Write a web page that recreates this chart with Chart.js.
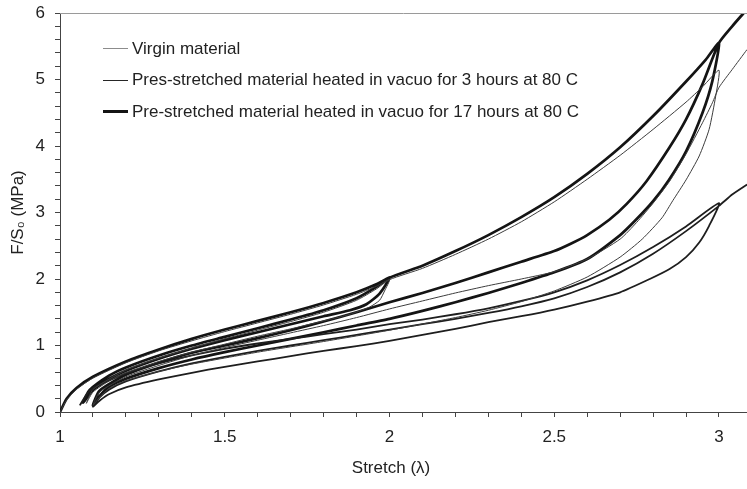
<!DOCTYPE html>
<html>
<head>
<meta charset="utf-8">
<script src="https://cdn.jsdelivr.net/npm/chart.js@4.4.1/dist/chart.umd.min.js"></script>
<style>
  html, body { margin: 0; padding: 0; background: #fff; }
  #wrap { position: relative; width: 747px; height: 489px; font-family: "Liberation Sans", Arial, sans-serif; color: #222; }
  #legend { position: absolute; left: 103px; top: 33px; font-size: 17px; }
  #legend .row { height: 31.5px; display: flex; align-items: center; white-space: nowrap; }
  #legend .swatch { width: 25px; margin-right: 4px; }
  #xtitle { position: absolute; left: 291px; width: 200px; top: 458px; text-align: center; font-size: 17px; }
</style>
</head>
<body>
<div id="wrap">
  <canvas id="chart" width="747" height="489"></canvas>
  <div id="legend"></div>
  <div id="xtitle">Stretch (&lambda;)</div>
</div>
<script>
// axis tick labels
const xTickValues = [1, 1.5, 2, 2.5, 3];
const yTickValues = [0, 1, 2, 3, 4, 5, 6];

const seriesLabels = [
  'Virgin material',
  'Pres-stretched material heated in vacuo for 3 hours at 80 C',
  'Pre-stretched material heated in vacuo for 17 hours at 80 C'
];

// virgin: load to 2, unload, reload, load to 3, unload, reload past 3
const virginStretch = [
  1, 1.02, 1.05, 1.1, 1.2, 1.3, 1.4, 1.5, 1.6, 1.7, 1.8, 1.9, 1.96, 2.0,
  1.985, 1.97, 1.94, 1.88, 1.8, 1.7, 1.6, 1.5, 1.4, 1.3, 1.2, 1.15, 1.1, 1.08,
  1.1, 1.2, 1.3, 1.4, 1.5, 1.6, 1.7, 1.8, 1.9, 1.96, 2.0,
  2.1, 2.2, 2.3, 2.4, 2.5, 2.6, 2.7, 2.8, 2.9, 2.95, 3.0,
  2.99, 2.97, 2.94, 2.9, 2.86, 2.827, 2.767, 2.7, 2.6, 2.5, 2.4, 2.3, 2.2, 2.0, 1.8, 1.6, 1.4, 1.3, 1.2, 1.15, 1.12, 1.1,
  1.12, 1.2, 1.3, 1.4, 1.5, 1.6, 1.7, 1.8, 1.9, 2.0, 2.1, 2.2, 2.3, 2.4, 2.5, 2.6, 2.7, 2.75, 2.8, 2.85, 2.9, 2.95, 2.98, 3.0, 3.04, 3.085
];
const virginStress = [
  0, 0.18, 0.34, 0.51, 0.74, 0.92, 1.07, 1.21, 1.34, 1.47, 1.61, 1.77, 1.89, 1.99,
  1.82, 1.68, 1.58, 1.47, 1.37, 1.25, 1.14, 1.02, 0.9, 0.76, 0.59, 0.47, 0.3, 0.13,
  0.34, 0.63, 0.81, 0.96, 1.1, 1.23, 1.36, 1.5, 1.68, 1.85, 1.99,
  2.16, 2.37, 2.6, 2.86, 3.16, 3.5, 3.86, 4.25, 4.66, 4.89, 5.14,
  4.75, 4.25, 3.85, 3.49, 3.18, 2.92, 2.6, 2.33, 2.03, 1.82, 1.66, 1.53, 1.42, 1.23, 1.06, 0.9, 0.72, 0.61, 0.47, 0.36, 0.22, 0.1,
  0.3, 0.53, 0.7, 0.85, 0.97, 1.08, 1.19, 1.3, 1.42, 1.55, 1.67, 1.79, 1.9, 2.0, 2.11, 2.3, 2.6, 2.85, 3.14, 3.47, 3.88, 4.35, 4.65, 4.88, 5.15, 5.45
];

// 3 hours at 80 C
const heated3hStretch = [
  1.06, 1.08, 1.1, 1.2, 1.3, 1.4, 1.5, 1.6, 1.7, 1.8, 1.9, 2.0, 2.1, 2.2, 2.3, 2.4, 2.5, 2.6, 2.7, 2.8, 2.9, 3.0,
  2.97, 2.94, 2.9, 2.85, 2.79, 2.7, 2.6, 2.5, 2.4, 2.3, 2.2, 2.1, 2.0, 1.9, 1.8, 1.7, 1.6, 1.5, 1.4, 1.3, 1.2, 1.15, 1.12, 1.1,
  1.12, 1.15, 1.2, 1.3, 1.4, 1.5, 1.6, 1.7, 1.8, 1.9, 2.0, 2.1, 2.2, 2.3, 2.4, 2.5, 2.6, 2.7, 2.8, 2.9, 3.0, 3.04, 3.085
];
const heated3hStress = [
  0.1, 0.26, 0.36, 0.58, 0.73, 0.85, 0.95, 1.03, 1.1, 1.17, 1.24, 1.32, 1.39, 1.47, 1.56, 1.67, 1.8, 1.98, 2.21, 2.48, 2.79, 3.14,
  2.8, 2.55, 2.33, 2.15, 2.0, 1.8, 1.66, 1.54, 1.44, 1.35, 1.25, 1.16, 1.07, 0.99, 0.92, 0.84, 0.76, 0.68, 0.59, 0.49, 0.37, 0.27, 0.17, 0.08,
  0.22, 0.34, 0.46, 0.61, 0.73, 0.83, 0.92, 1.0, 1.08, 1.16, 1.24, 1.32, 1.4, 1.49, 1.59, 1.71, 1.88, 2.1, 2.38, 2.72, 3.1, 3.27, 3.42
];

// 17 hours at 80 C
const heated17hStretch = [
  1, 1.02, 1.05, 1.1, 1.2, 1.3, 1.4, 1.5, 1.6, 1.7, 1.8, 1.9, 1.96, 2.0,
  1.97, 1.93, 1.88, 1.8, 1.7, 1.6, 1.5, 1.4, 1.3, 1.2, 1.15, 1.1, 1.07,
  1.09, 1.15, 1.2, 1.3, 1.4, 1.5, 1.6, 1.7, 1.8, 1.9, 1.96, 2.0,
  2.1, 2.2, 2.3, 2.4, 2.5, 2.6, 2.7, 2.8, 2.9, 2.96, 3.0,
  2.98, 2.95, 2.9, 2.848, 2.8, 2.748, 2.7, 2.6, 2.5, 2.4, 2.3, 2.2, 2.1, 2.0, 1.9, 1.8, 1.7, 1.6, 1.5, 1.4, 1.3, 1.2, 1.15, 1.12, 1.1,
  1.12, 1.2, 1.3, 1.4, 1.5, 1.6, 1.7, 1.8, 1.9, 2.0, 2.1, 2.2, 2.3, 2.4, 2.5, 2.55, 2.6, 2.667, 2.72, 2.78, 2.85, 2.9, 2.95, 3.0, 3.04, 3.075
];
const heated17hStress = [
  0, 0.2, 0.36, 0.53, 0.76, 0.94, 1.1, 1.24, 1.37, 1.5, 1.64, 1.8, 1.92, 2.02,
  1.78, 1.62, 1.53, 1.44, 1.32, 1.2, 1.08, 0.95, 0.8, 0.62, 0.5, 0.33, 0.14,
  0.33, 0.55, 0.67, 0.85, 1.0, 1.13, 1.26, 1.39, 1.53, 1.71, 1.88, 2.02,
  2.2, 2.42, 2.66, 2.93, 3.23, 3.58, 3.98, 4.45, 4.97, 5.3, 5.55,
  4.98, 4.5, 3.92, 3.49, 3.17, 2.89, 2.66, 2.3, 2.1, 1.94, 1.79, 1.65, 1.52, 1.4, 1.3, 1.2, 1.1, 1.0, 0.9, 0.79, 0.66, 0.5, 0.38, 0.24, 0.1,
  0.32, 0.56, 0.74, 0.89, 1.0, 1.11, 1.23, 1.36, 1.5, 1.65, 1.79, 1.94, 2.1, 2.26, 2.42, 2.53, 2.66, 2.89, 3.13, 3.47, 3.98, 4.4, 4.93, 5.55, 5.8, 6.0
];

const lineStyles = [
  { color: '#3c3c3c', width: 1, legend: '#8c8c8c', legendWidth: 1.5 },
  { color: '#1e1e1e', width: 1.8, legend: '#262626', legendWidth: 1.6 },
  { color: '#141414', width: 2.7, legend: '#141414', legendWidth: 3 }
];

function toPoints(xs, ys) {
  return xs.map((x, i) => ({ x: x, y: ys[i] }));
}

const seriesData = [
  toPoints(virginStretch, virginStress),
  toPoints(heated3hStretch, heated3hStress),
  toPoints(heated17hStretch, heated17hStress)
];

const FONT = '"Liberation Sans", Arial, sans-serif';
Chart.defaults.font.family = FONT;
Chart.defaults.font.size = 17;
Chart.defaults.color = '#222';

const topBorder = {
  id: 'topBorder',
  afterDraw(chart) {
    const a = chart.chartArea;
    const ctx = chart.ctx;
    ctx.save();
    ctx.strokeStyle = '#9a9a9a';
    ctx.lineWidth = 1;
    ctx.beginPath();
    ctx.moveTo(a.left, Math.round(a.top) + 0.5);
    ctx.lineTo(a.right, Math.round(a.top) + 0.5);
    ctx.stroke();
    ctx.restore();
  }
};

const chart = new Chart(document.getElementById('chart'), {
  type: 'scatter',
  data: {
    datasets: seriesData.map((pts, i) => ({
      label: seriesLabels[i],
      data: pts,
      showLine: true,
      borderColor: lineStyles[i].color,
      borderWidth: lineStyles[i].width,
      pointRadius: 0,
      tension: 0.2,
      fill: false
    }))
  },
  options: {
    responsive: false,
    animation: false,
    layout: { padding: { top: 13, right: 0, left: 0, bottom: 0 } },
    plugins: {
      legend: { display: false },
      tooltip: { enabled: false }
    },
    scales: {
      x: {
        type: 'linear',
        min: 1,
        max: 3.085,
        afterBuildTicks(scale) {
          const t = [];
          for (let k = 0; k <= 20; k++) t.push({ value: Math.round((1 + k * 0.1) * 10) / 10 });
          scale.ticks = t;
        },
        afterFit(scale) {
          scale.height = 77;
          scale.paddingLeft = 0;
          scale.paddingRight = 0;
        },
        ticks: {
          autoSkip: false,
          maxRotation: 0,
          padding: 10,
          color: '#222',
          callback: (v) => xTickValues.indexOf(Math.round(v * 10) / 10) >= 0 ? String(Math.round(v * 10) / 10) : ''
        },
        grid: { drawOnChartArea: false, tickLength: 5, color: '#444', tickColor: '#444' },
        border: { color: '#444', width: 1 }
      },
      y: {
        type: 'linear',
        min: 0,
        max: 6,
        afterBuildTicks(scale) {
          const t = [];
          for (let k = 0; k <= 30; k++) t.push({ value: Math.round(k * 0.2 * 10) / 10 });
          scale.ticks = t;
        },
        afterFit(scale) {
          scale.width = 60;
          scale.paddingTop = 0;
          scale.paddingBottom = 0;
        },
        ticks: {
          autoSkip: false,
          padding: 10,
          color: '#222',
          callback: (v) => yTickValues.indexOf(Math.round(v * 10) / 10) >= 0 ? String(Math.round(v)) : ''
        },
        title: {
          display: true,
          text: 'F/S\u2080 (MPa)',
          color: '#222',
          font: { size: 17 },
          padding: { top: 8, bottom: 0 }
        },
        grid: { drawOnChartArea: false, tickLength: 5, color: '#444', tickColor: '#444' },
        border: { color: '#444', width: 1 }
      }
    }
  },
  plugins: [topBorder]
});

// legend inside the plot, built from the datasets
const legend = document.getElementById('legend');
chart.data.datasets.forEach((ds, i) => {
  const row = document.createElement('div');
  row.className = 'row';
  const sw = document.createElement('div');
  sw.className = 'swatch';
  sw.style.borderTop = lineStyles[i].legendWidth + 'px solid ' + lineStyles[i].legend;
  const txt = document.createElement('span');
  txt.textContent = ds.label;
  row.appendChild(sw);
  row.appendChild(txt);
  legend.appendChild(row);
});
</script>
</body>
</html>
